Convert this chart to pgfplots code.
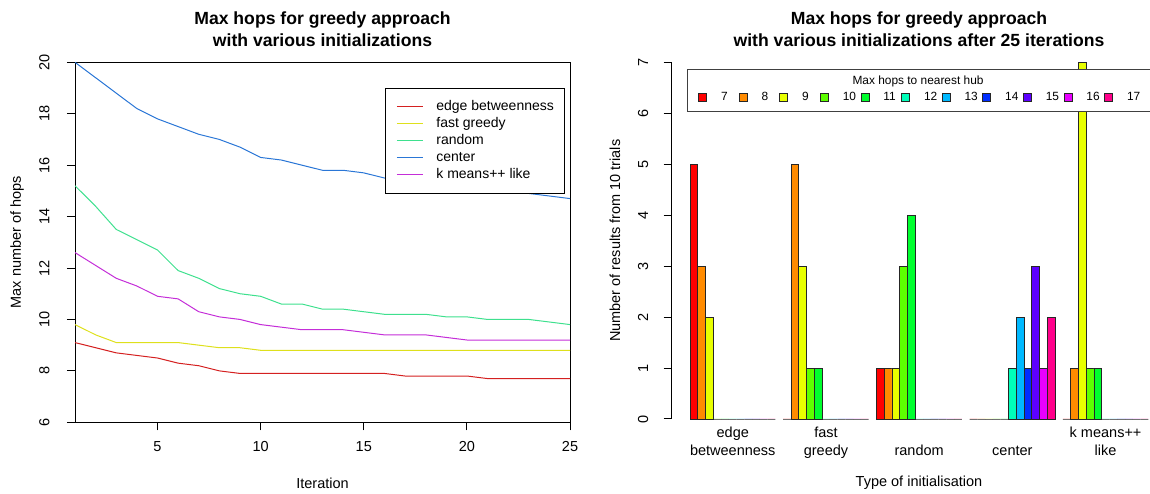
\documentclass[border=0pt]{standalone}
\usepackage{fontspec}
\setmainfont{Liberation Sans}
\usepackage{pgfplots}
\pgfplotsset{compat=1.18}

\definecolor{c7}{HTML}{FF0000}
\definecolor{c8}{HTML}{FF8B00}
\definecolor{c9}{HTML}{E8FF00}
\definecolor{c10}{HTML}{5DFF00}
\definecolor{c11}{HTML}{00FF2E}
\definecolor{c12}{HTML}{00FFB9}
\definecolor{c13}{HTML}{00B9FF}
\definecolor{c14}{HTML}{002EFF}
\definecolor{c15}{HTML}{5D00FF}
\definecolor{c16}{HTML}{E800FF}
\definecolor{c17}{HTML}{FF008B}
\definecolor{lred}{HTML}{D42020}
\definecolor{lyel}{HTML}{DEE01C}
\definecolor{lgrn}{HTML}{3EE08E}
\definecolor{lblu}{HTML}{2A76D6}
\definecolor{lmag}{HTML}{C42ED8}

\pgfplotsset{
  mybar/.style={ybar, bar width=1, bar shift=0pt, draw=black!85, line width=0.8pt,
    legend image code/.code={\draw[##1, line width=0.8pt] (0pt,-4pt) rectangle (8pt,4pt);}},
}

\begin{document}
\begin{tikzpicture}
\path[use as bounding box] (0pt,0pt) rectangle (1150pt,494pt);

% ---------------- Left chart ----------------
\begin{axis}[
  at={(75pt,71.7pt)}, anchor=south west, scale only axis,
  width=495pt, height=360pt,
  xmin=1, xmax=25, ymin=6, ymax=20,
  xtick={5,10,15,20,25}, ytick={6,8,10,12,14,16,18,20},
  tick pos=left,
  tick align=outside, major tick length=8pt,
  tick style={black, line width=1pt},
  axis line style={line width=1pt},
  /pgf/number format/assume math mode=true,
  ticklabel style={font=\fontsize{14.5}{17}\selectfont},
  yticklabel style={rotate=90},
  yticklabel shift=14pt,
  xticklabel shift=8pt,
  xlabel={Iteration}, ylabel={Max number of hops},
  label style={font=\fontsize{14.5}{17}\selectfont},
  xlabel style={at={(axis description cs:0.5,-0.17)}, anchor=center},
  ylabel style={at={(axis description cs:-0.117,0.5)}, anchor=center},
  title={Max hops for greedy approach\\with various initializations},
  title style={font=\bfseries\fontsize{17.6}{22.5}\selectfont, align=center,
    at={(axis description cs:0.5,1)}, anchor=south, inner sep=0pt, yshift=9pt},
  legend style={at={(axis description cs:0.626,0.9286)}, anchor=north west,
    draw=black, line width=1pt, font=\fontsize{14}{17}\selectfont,
    inner xsep=11pt, inner ysep=12pt, row sep=4pt,
    nodes={inner sep=0pt, text height=10pt, text depth=3pt},
    /tikz/every odd column/.append style={column sep=13pt}},
  legend cell align=left,
  legend image code/.code={\draw[#1] (0pt,0pt) -- (26pt,0pt);},
  every axis plot/.append style={line width=1pt},
]
\addplot[lred] coordinates {(1,9.1)(2,8.9)(3,8.7)(4,8.6)(5,8.5)(6,8.3)(7,8.2)(8,8.0)(9,7.9)(10,7.9)(11,7.9)(12,7.9)(13,7.9)(14,7.9)(15,7.9)(16,7.9)(17,7.8)(18,7.8)(19,7.8)(20,7.8)(21,7.7)(22,7.7)(23,7.7)(24,7.7)(25,7.7)};
\addlegendentry{edge betweenness}
\addplot[lyel] coordinates {(1,9.8)(2,9.4)(3,9.1)(4,9.1)(5,9.1)(6,9.1)(7,9.0)(8,8.9)(9,8.9)(10,8.8)(11,8.8)(12,8.8)(13,8.8)(14,8.8)(15,8.8)(16,8.8)(17,8.8)(18,8.8)(19,8.8)(20,8.8)(21,8.8)(22,8.8)(23,8.8)(24,8.8)(25,8.8)};
\addlegendentry{fast greedy}
\addplot[lgrn] coordinates {(1,15.2)(2,14.4)(3,13.5)(4,13.1)(5,12.7)(6,11.9)(7,11.6)(8,11.2)(9,11.0)(10,10.9)(11,10.6)(12,10.6)(13,10.4)(14,10.4)(15,10.3)(16,10.2)(17,10.2)(18,10.2)(19,10.1)(20,10.1)(21,10.0)(22,10.0)(23,10.0)(24,9.9)(25,9.8)};
\addlegendentry{random}
\addplot[lblu] coordinates {(1,20)(2,19.4)(3,18.8)(4,18.2)(5,17.8)(6,17.5)(7,17.2)(8,17.0)(9,16.7)(10,16.3)(11,16.2)(12,16.0)(13,15.8)(14,15.8)(15,15.7)(16,15.5)(17,15.4)(18,15.3)(19,15.2)(20,15.1)(21,15.0)(22,15.0)(23,14.9)(24,14.8)(25,14.7)};
\addlegendentry{center}
\addplot[lmag] coordinates {(1,12.6)(2,12.1)(3,11.6)(4,11.3)(5,10.9)(6,10.8)(7,10.3)(8,10.1)(9,10.0)(10,9.8)(11,9.7)(12,9.6)(13,9.6)(14,9.6)(15,9.5)(16,9.4)(17,9.4)(18,9.4)(19,9.3)(20,9.2)(21,9.2)(22,9.2)(23,9.2)(24,9.2)(25,9.2)};
\addlegendentry{k means++ like}
\end{axis}

% ---------------- Right chart ----------------
\begin{axis}[
  at={(671.7pt,75pt)}, anchor=south west, scale only axis,
  width=478.3pt, height=356.7pt,
  xmin=-1.36, xmax=60.22, ymin=0, ymax=7,
  clip=false,
  axis y line*=left, axis x line*=bottom,
  x axis line style={draw=none},
  y axis line style={line width=1pt},
  tick align=outside, major tick length=8pt,
  tick style={black, line width=1pt},
  major x tick style={draw=none},
  xtick={6.5,18.5,30.5,42.5,54.5},
  xticklabels={{\strut edge\\betweenness},{\strut fast\\greedy},{\strut\\random},{\strut\\center},{\strut k means++\\like}},
  xticklabel style={align=center, font=\fontsize{14.5}{18}\selectfont},
  xticklabel shift=-6pt,
  ytick={0,1,2,3,4,5,6,7},
  /pgf/number format/assume math mode=true,
  yticklabel style={rotate=90, font=\fontsize{14.5}{17}\selectfont},
  yticklabel shift=12pt,
  xlabel={Type of initialisation}, ylabel={Number of results from 10 trials},
  label style={font=\fontsize{14.5}{17}\selectfont},
  xlabel style={at={(axis description cs:0.517,-0.179)}, anchor=center},
  ylabel style={at={(axis description cs:-0.1185,0.5)}, anchor=center},
  title={Max hops for greedy approach\\with various initializations after 25 iterations},
  title style={font=\bfseries\fontsize{17.6}{22.5}\selectfont, align=center,
    at={(axis description cs:0.517,1)}, anchor=south, inner sep=0pt, yshift=9pt},
  legend columns=11,
  legend style={draw=none, fill=none, at={(axis description cs:0.055,0.9027)}, anchor=west,
    font=\fontsize{11.9}{14}\selectfont, inner sep=0pt, nodes={inner sep=0pt},
    /tikz/every odd column/.append style={column sep=14pt},
    /tikz/every even column/.append style={column sep=4.5pt}},
  legend cell align=left,
]
\addplot[mybar, fill=c7]  coordinates {(1.5,5)(13.5,0)(25.5,1)(37.5,0)(49.5,0)};
\addplot[mybar, fill=c8]  coordinates {(2.5,3)(14.5,5)(26.5,1)(38.5,0)(50.5,1)};
\addplot[mybar, fill=c9]  coordinates {(3.5,2)(15.5,3)(27.5,1)(39.5,0)(51.5,7)};
\addplot[mybar, fill=c10] coordinates {(4.5,0)(16.5,1)(28.5,3)(40.5,0)(52.5,1)};
\addplot[mybar, fill=c11] coordinates {(5.5,0)(17.5,1)(29.5,4)(41.5,0)(53.5,1)};
\addplot[mybar, fill=c12] coordinates {(6.5,0)(18.5,0)(30.5,0)(42.5,1)(54.5,0)};
\addplot[mybar, fill=c13] coordinates {(7.5,0)(19.5,0)(31.5,0)(43.5,2)(55.5,0)};
\addplot[mybar, fill=c14] coordinates {(8.5,0)(20.5,0)(32.5,0)(44.5,1)(56.5,0)};
\addplot[mybar, fill=c15] coordinates {(9.5,0)(21.5,0)(33.5,0)(45.5,3)(57.5,0)};
\addplot[mybar, fill=c16] coordinates {(10.5,0)(22.5,0)(34.5,0)(46.5,1)(58.5,0)};
\addplot[mybar, fill=c17] coordinates {(11.5,0)(23.5,0)(35.5,0)(47.5,2)(59.5,0)};
\legend{\makebox[13.3pt][l]{7},\makebox[13.3pt][l]{8},\makebox[13.3pt][l]{9},\makebox[13.3pt][l]{10},\makebox[13.3pt][l]{11},\makebox[13.3pt][l]{12},\makebox[13.3pt][l]{13},\makebox[13.3pt][l]{14},\makebox[13.3pt][l]{15},\makebox[13.3pt][l]{16},\makebox[13.3pt][l]{17}}
\filldraw[fill=white, draw=black!75, line width=1pt] (axis description cs:0.032,0.9804) rectangle (axis description cs:1.03,0.8629);
\node[font=\fontsize{11.9}{14}\selectfont, anchor=base] at (axis description cs:0.515,0.9364) {Max hops to nearest hub};
\end{axis}
\end{tikzpicture}
\end{document}
